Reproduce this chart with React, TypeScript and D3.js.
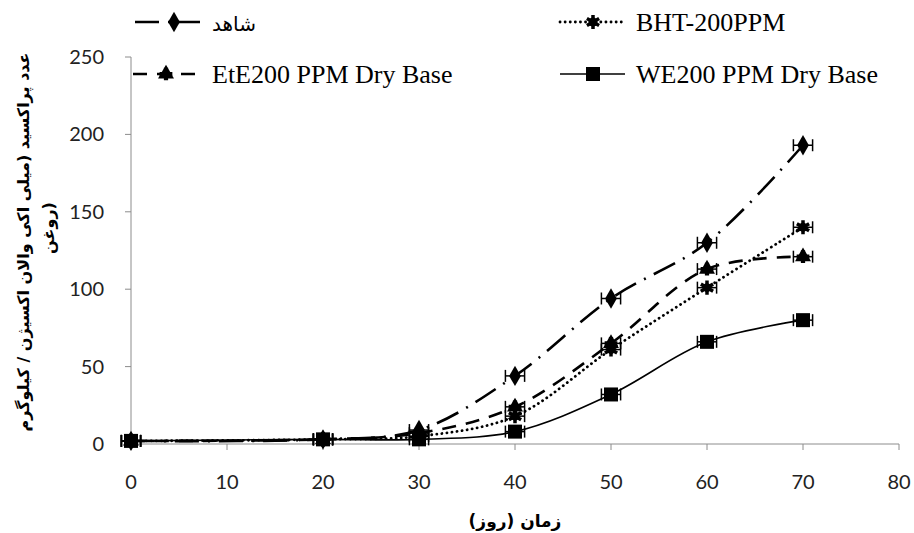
import React from "react";
import * as d3 from "d3";

const days = [0, 20, 30, 40, 50, 60, 70];
const controlValues = [2, 3, 9, 44, 94, 130, 193];
const bhtValues = [2, 3, 5, 18, 61, 101, 140];
const eteValues = [2, 3, 7, 24, 65, 113, 121];
const weValues = [2, 3, 3, 8, 32, 66, 80];
const xErr = 1;
const xTicks = [0, 10, 20, 30, 40, 50, 60, 70, 80];
const yTicks = [0, 50, 100, 150, 200, 250];

const seriesNames = ["شاهد", "BHT-200PPM", "EtE200 PPM Dry Base", "WE200 PPM Dry Base"];

type Series = { name: string; values: number[]; dash: string; width: number; marker: string; cap: string };

const series: Series[] = [
  { name: seriesNames[0], values: controlValues, dash: "24,9,2,9", width: 2.6, marker: "diamond", cap: "butt" },
  { name: seriesNames[1], values: bhtValues, dash: "0.1,5", width: 2.8, marker: "asterisk", cap: "round" },
  { name: seriesNames[2], values: eteValues, dash: "14,10", width: 2.6, marker: "triangle", cap: "butt" },
  { name: seriesNames[3], values: weValues, dash: "", width: 1.6, marker: "square", cap: "butt" },
];

const W = 914, H = 533;
const x = d3.scaleLinear().domain([0, 80]).range([131, 899]);
const y = d3.scaleLinear().domain([0, 250]).range([444, 57]);
const axisColor = "#8c8c8c";

function Marker({ kind, cx, cy }: { kind: string; cx: number; cy: number }) {
  if (kind === "diamond") {
    return <path d={d3.symbol(d3.symbolDiamond, 120)()!} transform={`translate(${cx},${cy})`} fill="#000" />;
  }
  if (kind === "square") {
    return <rect x={cx - 7} y={cy - 7} width={14} height={14} fill="#000" />;
  }
  if (kind === "triangle") {
    return (
      <g transform={`translate(${cx},${cy})`}>
        <path d={d3.symbol(d3.symbolTriangle, 110)()!} fill="#000" />
        <path d={d3.symbol(d3.symbolCross, 90)()!} fill="#000" />
      </g>
    );
  }
  return (
    <g transform={`translate(${cx},${cy})`}>
      <path d={d3.symbol(d3.symbolAsterisk, 140)()!} stroke="#000" strokeWidth={3.5} fill="none" />
      <circle r={4.5} fill="#000" />
    </g>
  );
}

export default function App() {
  const line = d3
    .line<number>()
    .x((_, i) => x(days[i]))
    .y((v) => y(v))
    .curve(d3.curveCatmullRom.alpha(0.5));

  const legend = [
    { s: series[0], x0: 135, x1: 200, mx: 174, ty: 31, tx: 212 },
    { s: series[1], x0: 560, x1: 625, mx: 593, ty: 31, tx: 636 },
    { s: series[2], x0: 133, x1: 205, mx: 166, ty: 83, tx: 212 },
    { s: series[3], x0: 560, x1: 625, mx: 593, ty: 83, tx: 636 },
  ];

  return (
    <svg width={W} height={H} style={{ position: "absolute", left: 0, top: 0, background: "#fff" }}>
      <rect width={W} height={H} fill="#fff" />
      {/* axes */}
      <line x1={x(0)} x2={x(0)} y1={y(250)} y2={y(0)} stroke={axisColor} strokeWidth={1} />
      <line x1={x(0)} x2={x(80)} y1={y(0)} y2={y(0)} stroke={axisColor} strokeWidth={1} />
      {yTicks.map((t) => (
        <g key={"y" + t}>
          <line x1={x(0) - 6} x2={x(0)} y1={y(t)} y2={y(t)} stroke={axisColor} />
          <text x={104} y={y(t) + 7} textAnchor="end" fontFamily="Lato" fontSize={20} fill="#222">
            {t}
          </text>
        </g>
      ))}
      {xTicks.map((t) => (
        <g key={"x" + t}>
          <line x1={x(t)} x2={x(t)} y1={y(0)} y2={y(0) + 6} stroke={axisColor} />
          <text x={x(t)} y={489} textAnchor="middle" fontFamily="Lato" fontSize={20} fill="#222">
            {t}
          </text>
        </g>
      ))}
      {/* axis titles */}
      <text x={515} y={527} textAnchor="middle" fontFamily="DejaVu Sans" fontWeight="bold" fontSize={17} fill="#000">
        زمان (روز)
      </text>
      <g transform="translate(29,242) rotate(-90)">
        <text x={0} y={0} textAnchor="middle" fontFamily="DejaVu Sans" fontWeight="bold" fontSize={16} fill="#000">
          عدد پراکسید (میلی اکی والان اکسیژن / کیلوگرم
        </text>
        <text x={14} y={25} textAnchor="middle" fontFamily="DejaVu Sans" fontWeight="bold" fontSize={16} fill="#000">
          روغن)
        </text>
      </g>
      {/* series */}
      {series.map((s) => (
        <g key={s.name}>
          <path
            d={line(s.values)!}
            fill="none"
            stroke="#000"
            strokeWidth={s.width}
            strokeDasharray={s.dash}
            strokeLinecap={s.cap as any}
          />
          {s.values.map((v, i) => (
            <g key={i}>
              <line x1={x(days[i] - xErr)} x2={x(days[i] + xErr)} y1={y(v)} y2={y(v)} stroke="#000" strokeWidth={1.5} />
              <line x1={x(days[i] - xErr)} x2={x(days[i] - xErr)} y1={y(v) - 6} y2={y(v) + 6} stroke="#000" strokeWidth={1.5} />
              <line x1={x(days[i] + xErr)} x2={x(days[i] + xErr)} y1={y(v) - 6} y2={y(v) + 6} stroke="#000" strokeWidth={1.5} />
              <Marker kind={s.marker} cx={x(days[i])} cy={y(v)} />
            </g>
          ))}
        </g>
      ))}
      {/* legend */}
      {legend.map((l) => (
        <g key={"lg" + l.s.name}>
          <line
            x1={l.x0}
            x2={l.x1}
            y1={l.ty - 9}
            y2={l.ty - 9}
            stroke="#000"
            strokeWidth={l.s.width}
            strokeDasharray={l.s.dash}
            strokeLinecap={l.s.cap as any}
          />
          <Marker kind={l.s.marker} cx={l.mx} cy={l.ty - 9} />
          <text
            x={l.tx}
            y={l.ty}
            fontFamily="'Liberation Serif', 'DejaVu Sans'"
            fontSize={l.s.name === seriesNames[0] ? 20 : 26}
            fill="#000"
          >
            {l.s.name}
          </text>
        </g>
      ))}
    </svg>
  );
}
